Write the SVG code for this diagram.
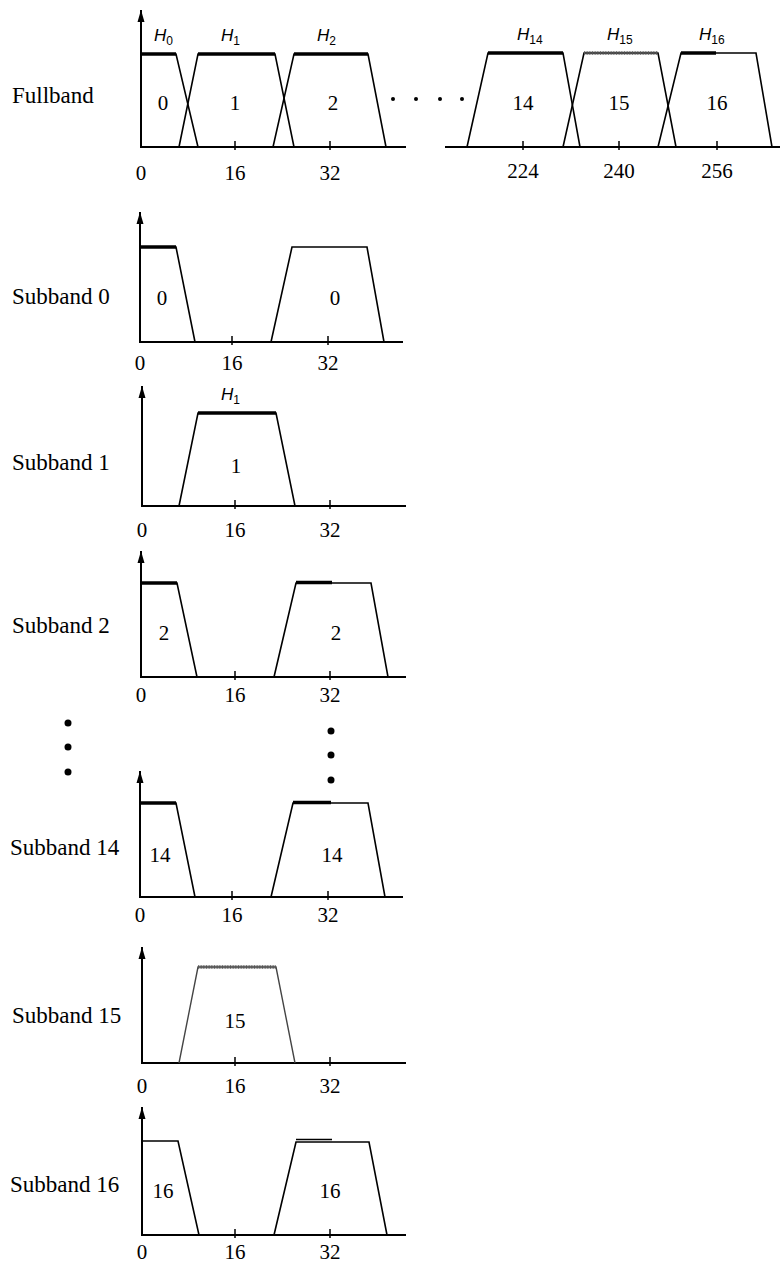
<svg xmlns="http://www.w3.org/2000/svg" width="781" height="1263" viewBox="0 0 781 1263">
<style>
.axis{stroke:#000;stroke-width:2;fill:none}
.tick{stroke:#000;stroke-width:1.5;fill:none}
.curve{stroke:#000;stroke-width:1.6;fill:none;stroke-linejoin:miter}
.top{stroke:#000;stroke-width:3.5;fill:none}
.topg{stroke:#555;stroke-width:3.5;fill:none;stroke-dasharray:1 0.6}
.grey{stroke:#444;stroke-width:1.4;fill:none}
.lbl{font-family:"Liberation Serif","Times New Roman",serif;font-size:23px;fill:#000}
.num{font-family:"Liberation Serif","Times New Roman",serif;font-size:21px;fill:#000;text-anchor:middle}
.h{font-family:"Liberation Sans",Arial,sans-serif;font-style:italic;font-size:17px;fill:#000}
.sub{font-size:12px;font-style:normal}
.dot{fill:#000}
</style>
<defs>
<marker id="arr" viewBox="0 0 12 8" refX="12" refY="4" markerWidth="12" markerHeight="8" markerUnits="userSpaceOnUse" orient="auto">
<path d="M0,0.5 L12,4 L0,7.5 z" fill="#000"/>
</marker>
</defs>

<g id="fullband">
<text class="lbl" x="12" y="103">Fullband</text>
<line class="axis" x1="141" y1="148" x2="141" y2="10" marker-end="url(#arr)"/>
<line class="axis" x1="140" y1="147" x2="406" y2="147"/>
<line class="axis" x1="445" y1="147" x2="780" y2="147"/>
<g class="tick">
<line x1="235" y1="141" x2="235" y2="150"/>
<line x1="330" y1="141" x2="330" y2="150"/>
<line x1="523" y1="141" x2="523" y2="150"/>
<line x1="619" y1="141" x2="619" y2="150"/>
<line x1="717" y1="141" x2="717" y2="150"/>
</g>
<path class="curve" d="M141,54 L176,54 L198,147"/>
<line class="top" x1="141" y1="54" x2="176" y2="54"/>
<path class="curve" d="M179,147 L198,54 L275,54 L294,147"/>
<line class="top" x1="198" y1="54" x2="275" y2="54"/>
<path class="curve" d="M273,147 L294,54 L368,54 L386,147"/>
<line class="top" x1="294" y1="54" x2="368" y2="54"/>
<path class="curve" d="M467,147 L488,53 L563,53 L580,147"/>
<line class="top" x1="488" y1="53" x2="563" y2="53"/>
<path class="curve" d="M563,147 L584,53 L658,53 L676,147"/>
<line class="topg" x1="584" y1="53" x2="658" y2="53"/>
<path class="curve" d="M658,147 L681,53 L756,53 L772,147"/>
<line class="top" x1="681" y1="53" x2="716" y2="53"/>
<text class="h" x="154" y="41">H<tspan class="sub" dy="4">0</tspan></text>
<text class="h" x="221" y="41">H<tspan class="sub" dy="4">1</tspan></text>
<text class="h" x="317" y="41">H<tspan class="sub" dy="4">2</tspan></text>
<text class="h" x="517" y="40">H<tspan class="sub" dy="4">14</tspan></text>
<text class="h" x="607" y="40">H<tspan class="sub" dy="4">15</tspan></text>
<text class="h" x="699" y="40">H<tspan class="sub" dy="4">16</tspan></text>
<text class="num" x="163" y="110">0</text>
<text class="num" x="235" y="110">1</text>
<text class="num" x="333" y="110">2</text>
<text class="num" x="523" y="110">14</text>
<text class="num" x="619" y="110">15</text>
<text class="num" x="717" y="110">16</text>
<circle class="dot" cx="393" cy="99" r="2"/>
<circle class="dot" cx="416" cy="99" r="2"/>
<circle class="dot" cx="440" cy="99" r="2"/>
<circle class="dot" cx="462" cy="99" r="2"/>
<text class="num" x="141" y="180">0</text>
<text class="num" x="235" y="180">16</text>
<text class="num" x="330" y="180">32</text>
<text class="num" x="523" y="178">224</text>
<text class="num" x="619" y="178">240</text>
<text class="num" x="717" y="178">256</text>
</g>

<g id="subband0">
<text class="lbl" x="12" y="304">Subband 0</text>
<line class="axis" x1="140" y1="343" x2="140" y2="212" marker-end="url(#arr)"/>
<line class="axis" x1="139" y1="342" x2="403" y2="342"/>
<line class="tick" x1="232" y1="336" x2="232" y2="345"/>
<line class="tick" x1="328" y1="336" x2="328" y2="345"/>
<path class="curve" d="M140,247 L176,247 L195,342"/>
<line class="top" x1="140" y1="247" x2="176" y2="247"/>
<path class="curve" d="M271,342 L292,247 L367,247 L384,342"/>
<text class="num" x="162" y="305">0</text>
<text class="num" x="335" y="305">0</text>
<text class="num" x="140" y="370">0</text>
<text class="num" x="232" y="370">16</text>
<text class="num" x="328" y="370">32</text>
</g>

<g id="subband1">
<text class="lbl" x="12" y="470">Subband 1</text>
<line class="axis" x1="142" y1="507" x2="142" y2="386" marker-end="url(#arr)"/>
<line class="axis" x1="141" y1="506" x2="406" y2="506"/>
<line class="tick" x1="235" y1="500" x2="235" y2="509"/>
<line class="tick" x1="330" y1="500" x2="330" y2="509"/>
<path class="curve" d="M179,506 L198,413 L276,413 L295,506"/>
<line class="top" x1="198" y1="413" x2="276" y2="413"/>
<text class="h" x="221" y="400">H<tspan class="sub" dy="4">1</tspan></text>
<text class="num" x="236" y="473">1</text>
<text class="num" x="142" y="537">0</text>
<text class="num" x="235" y="537">16</text>
<text class="num" x="330" y="537">32</text>
</g>

<g id="subband2">
<text class="lbl" x="12" y="633">Subband 2</text>
<line class="axis" x1="141" y1="678" x2="141" y2="551" marker-end="url(#arr)"/>
<line class="axis" x1="140" y1="677" x2="406" y2="677"/>
<line class="tick" x1="235" y1="671" x2="235" y2="680"/>
<line class="tick" x1="330" y1="671" x2="330" y2="680"/>
<path class="curve" d="M141,583 L177,583 L197,677"/>
<line class="top" x1="141" y1="583" x2="177" y2="583"/>
<path class="curve" d="M274,677 L296,583 L371,583 L388,677"/>
<line class="top" x1="296" y1="582.5" x2="332" y2="582.5"/>
<text class="num" x="164" y="640">2</text>
<text class="num" x="336" y="640">2</text>
<text class="num" x="141" y="702">0</text>
<text class="num" x="235" y="702">16</text>
<text class="num" x="330" y="702">32</text>
</g>

<g id="ellipsis">
<circle class="dot" cx="68" cy="723" r="3.5"/>
<circle class="dot" cx="68" cy="747" r="3.5"/>
<circle class="dot" cx="68" cy="772" r="3.5"/>
<circle class="dot" cx="331" cy="731" r="3.5"/>
<circle class="dot" cx="331" cy="755" r="3.5"/>
<circle class="dot" cx="331" cy="780" r="3.5"/>
</g>

<g id="subband14">
<text class="lbl" x="10" y="855">Subband 14</text>
<line class="axis" x1="140" y1="898" x2="140" y2="771" marker-end="url(#arr)"/>
<line class="axis" x1="139" y1="897" x2="403" y2="897"/>
<line class="tick" x1="232" y1="891" x2="232" y2="900"/>
<line class="tick" x1="328" y1="891" x2="328" y2="900"/>
<path class="curve" d="M140,803 L176,803 L195,897"/>
<line class="top" x1="140" y1="803" x2="176" y2="803"/>
<path class="curve" d="M271,897 L293,803 L368,803 L385,897"/>
<line class="top" x1="293" y1="802.5" x2="331" y2="802.5"/>
<text class="num" x="160" y="862">14</text>
<text class="num" x="332" y="862">14</text>
<text class="num" x="140" y="922">0</text>
<text class="num" x="232" y="922">16</text>
<text class="num" x="328" y="922">32</text>
</g>

<g id="subband15">
<text class="lbl" x="12" y="1023">Subband 15</text>
<line class="axis" x1="142" y1="1064" x2="142" y2="947" marker-end="url(#arr)"/>
<line class="axis" x1="141" y1="1063" x2="406" y2="1063"/>
<line class="tick" x1="235" y1="1057" x2="235" y2="1066"/>
<line class="tick" x1="330" y1="1057" x2="330" y2="1066"/>
<path class="grey" d="M179,1063 L198,967 L276,967 L295,1063"/>
<line class="topg" x1="198" y1="967" x2="276" y2="967"/>
<text class="num" x="235" y="1028">15</text>
<text class="num" x="142" y="1093">0</text>
<text class="num" x="235" y="1093">16</text>
<text class="num" x="330" y="1093">32</text>
</g>

<g id="subband16">
<text class="lbl" x="10" y="1192">Subband 16</text>
<line class="axis" x1="142" y1="1236" x2="142" y2="1107" marker-end="url(#arr)"/>
<line class="axis" x1="141" y1="1235" x2="406" y2="1235"/>
<line class="tick" x1="235" y1="1229" x2="235" y2="1238"/>
<line class="tick" x1="330" y1="1229" x2="330" y2="1238"/>
<path class="curve" d="M142,1141 L178,1141 L199,1235"/>
<path class="curve" d="M274,1235 L296,1142 L369,1142 L387,1235"/>
<line class="curve" x1="296" y1="1139.5" x2="332" y2="1139.5"/>
<text class="num" x="163" y="1198">16</text>
<text class="num" x="330" y="1198">16</text>
<text class="num" x="142" y="1259">0</text>
<text class="num" x="235" y="1259">16</text>
<text class="num" x="330" y="1259">32</text>
</g>
</svg>
